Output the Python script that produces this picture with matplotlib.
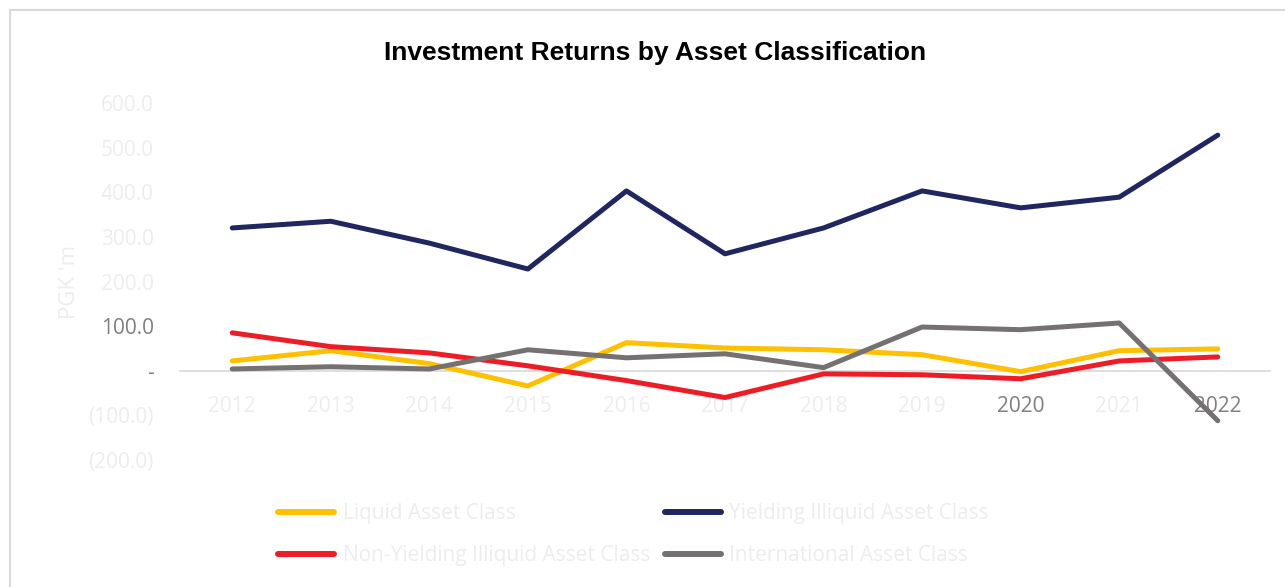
import matplotlib
matplotlib.use("Agg")
import matplotlib.pyplot as plt
from matplotlib.patches import Rectangle

years = ["2012", "2013", "2014", "2015", "2016", "2017", "2018", "2019", "2020", "2021", "2022"]
liquid = [22, 45, 16, -34, 63, 51, 47, 36, -2, 45, 49]
yielding = [320, 335, 286, 228, 403, 262, 320, 403, 365, 389, 528]
non_yielding = [85, 54, 40, 11, -22, -60, -7, -9, -18, 22, 31]
international = [4, 9, 4, 47, 29, 38, 7, 98, 92, 107, -112]

y_ticks = [-200, -100, 0, 100, 200, 300, 400, 500, 600]
y_tick_labels = ["(200.0)", "(100.0)", "-", "100.0", "200.0", "300.0", "400.0", "500.0", "600.0"]

faint = "#EDEDED"
dark = "#7F7F7F"

W, H = 1285, 587
fig = plt.figure(figsize=(W / 100, H / 100), dpi=100)
fig.patch.set_facecolor("white")

# rahmen links/oben
fig.add_artist(Rectangle((10 / W, -0.1), 1.2, (H - 10) / H + 0.1, transform=fig.transFigure,
                         fill=False, edgecolor="#D9D9D9", linewidth=1.5))

ax = fig.add_axes([180 / W, (H - 460) / H, 1090 / W, 357 / H])
x = list(range(len(years)))

l1, = ax.plot(x, liquid, color="#FFC000", lw=3.6, solid_capstyle="round", label="Liquid Asset Class")
l2, = ax.plot(x, yielding, color="#1F2660", lw=3.6, solid_capstyle="round", label="Yielding Illiquid Asset Class")
l3, = ax.plot(x, non_yielding, color="#EE1C25", lw=3.6, solid_capstyle="round", label="Non-Yielding Illiquid Asset Class")
l4, = ax.plot(x, international, color="#767171", lw=3.6, solid_capstyle="round", label="International Asset Class")

ax.set_xlim(-0.53, 10.53)
ax.set_ylim(-200, 600)

for s in ["top", "right", "left"]:
    ax.spines[s].set_visible(False)
ax.spines["bottom"].set_position(("data", 0))
ax.spines["bottom"].set_color("#D9D9D9")
ax.spines["bottom"].set_linewidth(1.2)
ax.spines["bottom"].set_zorder(0)

ax.set_xticks(x)
ax.set_xticklabels(years, fontsize=15, family="Open Sans")
ax.tick_params(axis="x", length=0, pad=18)
for lbl in ax.get_xticklabels():
    lbl.set_color(dark if lbl.get_text() in ("2020", "2022") else faint)

ax.set_yticks(y_ticks)
ax.set_yticklabels(y_tick_labels, fontsize=15, family="Open Sans")
ax.tick_params(axis="y", length=0, pad=19)
for lbl in ax.get_yticklabels():
    t = lbl.get_text()
    lbl.set_color(dark if t in ("100.0", "-") else faint)

ax.set_ylabel("PGK 'm", fontsize=16, family="Open Sans", color=faint)
ax.yaxis.set_label_coords(-0.092, 0.5)

fig.text(655 / W, (H - 53) / H, "Investment Returns by Asset Classification",
         ha="center", va="center", fontsize=19, fontweight="bold", family="Liberation Sans")

leg = fig.legend([l1, l3, l2, l4], [l1.get_label(), l3.get_label(), l2.get_label(), l4.get_label()],
                 loc="center left", bbox_to_anchor=(278 / W, (H - 534.5) / H), ncol=2, frameon=False,
                 borderpad=0, borderaxespad=0, prop={"family": "Open Sans", "size": 15},
                 handlelength=2.7, columnspacing=0.7, labelspacing=1.0, handletextpad=0.4)
for t in leg.get_texts():
    t.set_color(faint)
for h in leg.get_lines():
    h.set_linewidth(4.3)

fig.savefig("out.png", dpi=100)
